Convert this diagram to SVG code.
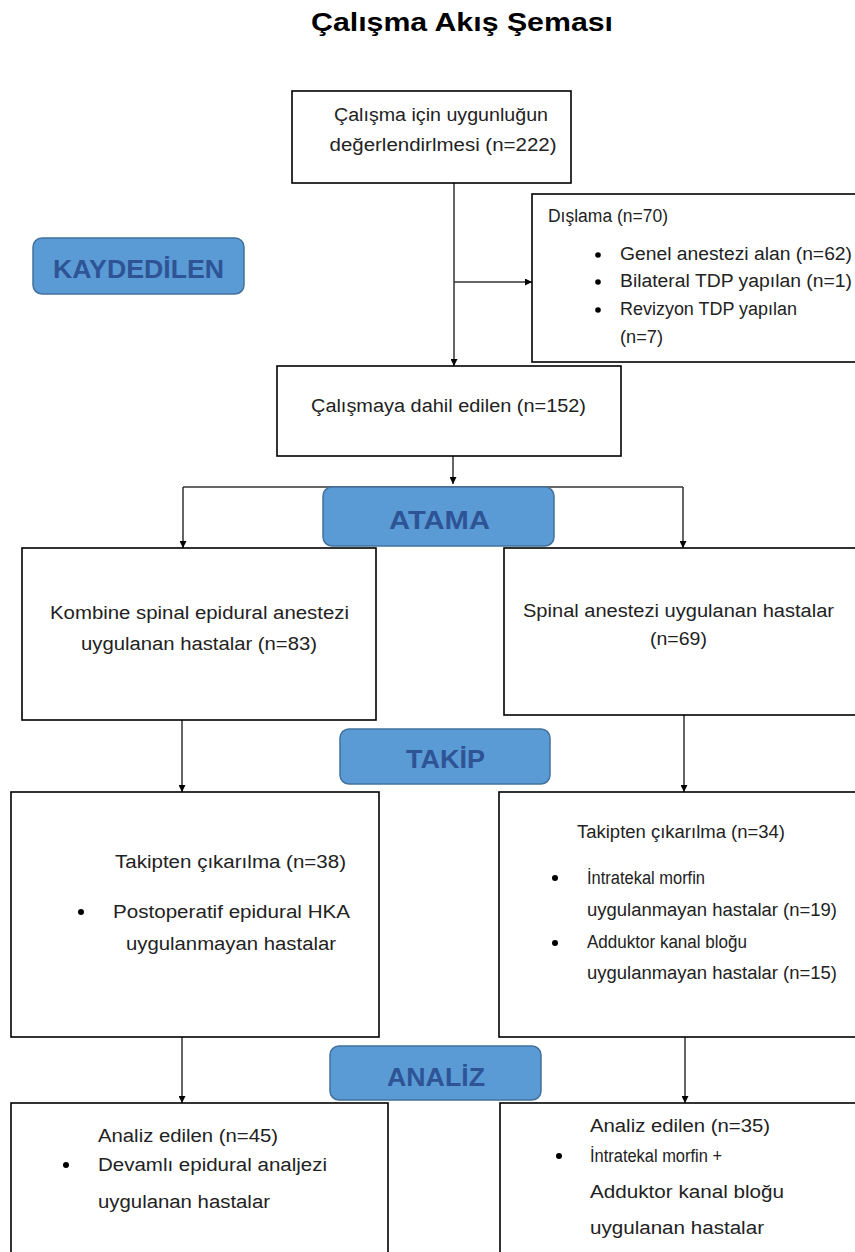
<svg xmlns="http://www.w3.org/2000/svg" width="855" height="1252" viewBox="0 0 855 1252">
<defs>
<marker id="arr" viewBox="0 0 10 10" refX="10" refY="5" markerWidth="7" markerHeight="7" orient="auto" markerUnits="userSpaceOnUse">
<path d="M0,0 L10,5 L0,10 z" fill="#000"/>
</marker>
<style>
.box{fill:#fff;stroke:#000;stroke-width:1.6}
.lbl{fill:#5B9BD5;stroke:#41719C;stroke-width:1.5}
.lt{font-family:"Liberation Sans",Arial,sans-serif;font-weight:bold;font-size:25px;fill:#2F5496;text-anchor:middle}
.t{font-family:"Liberation Sans",Arial,sans-serif;font-size:18px;fill:#222}
.c{text-anchor:middle}
.ln{stroke:#333;stroke-width:1.5;fill:none}
.bul{fill:#000}
</style>
</defs>
<rect width="855" height="1252" fill="#fff"/>
<text x="462" y="31" font-family="'Liberation Sans',Arial,sans-serif" font-weight="bold" font-size="25" text-anchor="middle" fill="#000" textLength="302" lengthAdjust="spacingAndGlyphs">Çalışma Akış Şeması</text>

<g id="connectors">
<line class="ln" x1="454" y1="183" x2="454" y2="366" marker-end="url(#arr)"/>
<line class="ln" x1="454" y1="282" x2="532" y2="282" marker-end="url(#arr)"/>
<line class="ln" x1="453" y1="456" x2="453" y2="484" marker-end="url(#arr)"/>
<line class="ln" x1="183" y1="487" x2="683" y2="487"/>
<line class="ln" x1="183" y1="487" x2="183" y2="548" marker-end="url(#arr)"/>
<line class="ln" x1="683" y1="487" x2="683" y2="548" marker-end="url(#arr)"/>
<line class="ln" x1="182" y1="720" x2="182" y2="792" marker-end="url(#arr)"/>
<line class="ln" x1="684" y1="715" x2="684" y2="792" marker-end="url(#arr)"/>
<line class="ln" x1="182" y1="1037" x2="182" y2="1103" marker-end="url(#arr)"/>
<line class="ln" x1="685" y1="1037" x2="685" y2="1103" marker-end="url(#arr)"/>
</g>

<g id="n-uygunluk">
<rect class="box" x="292" y="91" width="279" height="92"/>
<text class="t c" x="441" y="121" textLength="214" lengthAdjust="spacingAndGlyphs">Çalışma için uygunluğun</text>
<text class="t c" x="443" y="151" textLength="227" lengthAdjust="spacingAndGlyphs">değerlendirlmesi (n=222)</text>
</g>

<g id="n-dislama">
<rect class="box" x="532" y="194" width="330" height="168"/>
<text class="t" x="548" y="222" font-size="16" textLength="120" lengthAdjust="spacingAndGlyphs">Dışlama (n=70)</text>
<circle class="bul" cx="598" cy="255" r="2.8"/>
<text class="t" x="620" y="260" textLength="232" lengthAdjust="spacingAndGlyphs">Genel anestezi alan (n=62)</text>
<circle class="bul" cx="598" cy="282" r="2.8"/>
<text class="t" x="620" y="287" textLength="232" lengthAdjust="spacingAndGlyphs">Bilateral TDP yapılan (n=1)</text>
<circle class="bul" cx="598" cy="310" r="2.8"/>
<text class="t" x="620" y="315" textLength="177" lengthAdjust="spacingAndGlyphs">Revizyon TDP yapılan</text>
<text class="t" x="620" y="343" textLength="43" lengthAdjust="spacingAndGlyphs">(n=7)</text>
</g>

<g id="l-kaydedilen">
<rect class="lbl" x="33" y="238" width="211" height="56" rx="9"/>
<text class="lt" x="138.5" y="278" textLength="171" lengthAdjust="spacingAndGlyphs">KAYDEDİLEN</text>
</g>

<g id="n-dahil">
<rect class="box" x="277" y="366" width="344" height="90"/>
<text class="t c" x="448.5" y="412" textLength="275" lengthAdjust="spacingAndGlyphs">Çalışmaya dahil edilen (n=152)</text>
</g>

<g id="l-atama">
<rect class="lbl" x="323" y="487" width="231" height="59" rx="9"/>
<text class="lt" x="439.5" y="529" textLength="101" lengthAdjust="spacingAndGlyphs">ATAMA</text>
</g>

<g id="n-kse">
<rect class="box" x="22" y="548" width="354" height="172"/>
<text class="t c" x="199.5" y="619" font-size="19" textLength="299" lengthAdjust="spacingAndGlyphs">Kombine spinal epidural anestezi</text>
<text class="t c" x="199" y="650" font-size="19" textLength="236" lengthAdjust="spacingAndGlyphs">uygulanan hastalar (n=83)</text>
</g>

<g id="n-spinal">
<rect class="box" x="504" y="548" width="360" height="167"/>
<text class="t c" x="678.5" y="617" font-size="19" textLength="311" lengthAdjust="spacingAndGlyphs">Spinal anestezi uygulanan hastalar</text>
<text class="t c" x="678.5" y="645" font-size="19" textLength="57" lengthAdjust="spacingAndGlyphs">(n=69)</text>
</g>

<g id="l-takip">
<rect class="lbl" x="340" y="729" width="210" height="55" rx="9"/>
<text class="lt" x="445.5" y="768" textLength="79" lengthAdjust="spacingAndGlyphs">TAKİP</text>
</g>

<g id="n-takip-sol">
<rect class="box" x="11" y="792" width="368" height="245"/>
<text class="t" x="115" y="868" textLength="231" lengthAdjust="spacingAndGlyphs">Takipten çıkarılma (n=38)</text>
<circle class="bul" cx="81" cy="912" r="3"/>
<text class="t" x="113" y="918" textLength="237" lengthAdjust="spacingAndGlyphs">Postoperatif epidural HKA</text>
<text class="t" x="126" y="950" textLength="210" lengthAdjust="spacingAndGlyphs">uygulanmayan hastalar</text>
</g>

<g id="n-takip-sag">
<rect class="box" x="499" y="792" width="365" height="245"/>
<text class="t" x="577" y="838" font-size="16" textLength="208" lengthAdjust="spacingAndGlyphs">Takipten çıkarılma (n=34)</text>
<circle class="bul" cx="555" cy="878" r="3"/>
<text class="t" x="587" y="884" textLength="118" lengthAdjust="spacingAndGlyphs">İntratekal morfin</text>
<text class="t" x="587" y="916" textLength="250" lengthAdjust="spacingAndGlyphs">uygulanmayan hastalar (n=19)</text>
<circle class="bul" cx="555" cy="943" r="3"/>
<text class="t" x="587" y="948" textLength="160" lengthAdjust="spacingAndGlyphs">Adduktor kanal bloğu</text>
<text class="t" x="587" y="979" textLength="250" lengthAdjust="spacingAndGlyphs">uygulanmayan hastalar (n=15)</text>
</g>

<g id="l-analiz">
<rect class="lbl" x="330" y="1046" width="211" height="54" rx="9"/>
<text class="lt" x="436" y="1086" textLength="98" lengthAdjust="spacingAndGlyphs">ANALİZ</text>
</g>

<g id="n-analiz-sol">
<rect class="box" x="11" y="1103" width="377" height="160"/>
<text class="t" x="98" y="1142" textLength="180" lengthAdjust="spacingAndGlyphs">Analiz edilen (n=45)</text>
<circle class="bul" cx="66" cy="1165" r="3"/>
<text class="t" x="98" y="1171" textLength="229" lengthAdjust="spacingAndGlyphs">Devamlı epidural analjezi</text>
<text class="t" x="98" y="1208" textLength="172" lengthAdjust="spacingAndGlyphs">uygulanan hastalar</text>
</g>

<g id="n-analiz-sag">
<rect class="box" x="500" y="1103" width="364" height="160"/>
<text class="t" x="590" y="1132" textLength="180" lengthAdjust="spacingAndGlyphs">Analiz edilen (n=35)</text>
<circle class="bul" cx="559" cy="1156" r="3"/>
<text class="t" x="590" y="1162" textLength="132" lengthAdjust="spacingAndGlyphs">İntratekal morfin +</text>
<text class="t" x="590" y="1198" textLength="194" lengthAdjust="spacingAndGlyphs">Adduktor kanal bloğu</text>
<text class="t" x="590" y="1234" textLength="174" lengthAdjust="spacingAndGlyphs">uygulanan hastalar</text>
</g>
</svg>
